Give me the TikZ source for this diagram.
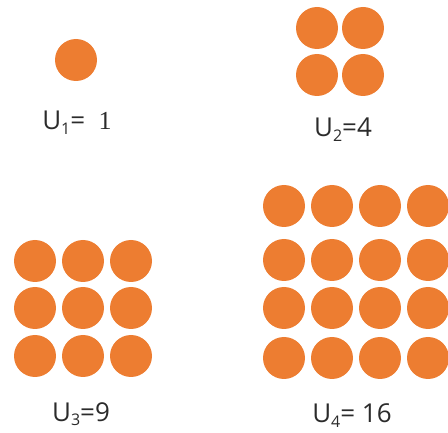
\documentclass[tikz,border=0pt]{standalone}
\usepackage{fontspec}
\setmainfont{Open Sans}
\newfontfamily\serifone{Liberation Serif}
\definecolor{dotorange}{HTML}{ED7D31}
\definecolor{txt}{HTML}{2B2B2B}
\newcommand{\lowidx}[1]{\raisebox{-0.18em}{\fontsize{16}{16}\selectfont #1}}
\tikzset{
  dot/.style={circle, fill=dotorange, draw=none, minimum size=42pt, inner sep=0pt},
  lbl/.style={font=\fontsize{26}{26}\selectfont, text=txt, inner sep=0pt, anchor=base}
}
\begin{document}
\begin{tikzpicture}[x=1pt,y=-1pt]
\useasboundingbox (0,0) rectangle (448,433);
% U1
\node[dot] (a1) at (76,60) {};
\node[lbl] (l1) at (77,130) {U\lowidx{1}=\ \ {\serifone 1}};
% U2
\node[dot] (b11) at (317,28) {};
\node[dot] (b12) at (363,28) {};
\node[dot] (b21) at (317,75) {};
\node[dot] (b22) at (363,75) {};
\node[lbl] (l2) at (343,137) {U\lowidx{2}=4};
% U3
\foreach \r/\y in {1/261,2/308,3/356}{
  \foreach \c/\x in {1/35,2/83,3/131}{
    \node[dot] (c\r\c) at (\x,\y) {};
  }
}
\node[lbl] (l3) at (81,421) {U\lowidx{3}=9};
% U4
\foreach \r/\y in {1/206,2/260,3/308,4/358}{
  \foreach \c/\x in {1/284,2/332,3/380,4/428}{
    \node[dot] (d\r\c) at (\x,\y) {};
  }
}
\node[lbl] (l4) at (352,423) {U\lowidx{4}= 16};
\end{tikzpicture}
\end{document}
